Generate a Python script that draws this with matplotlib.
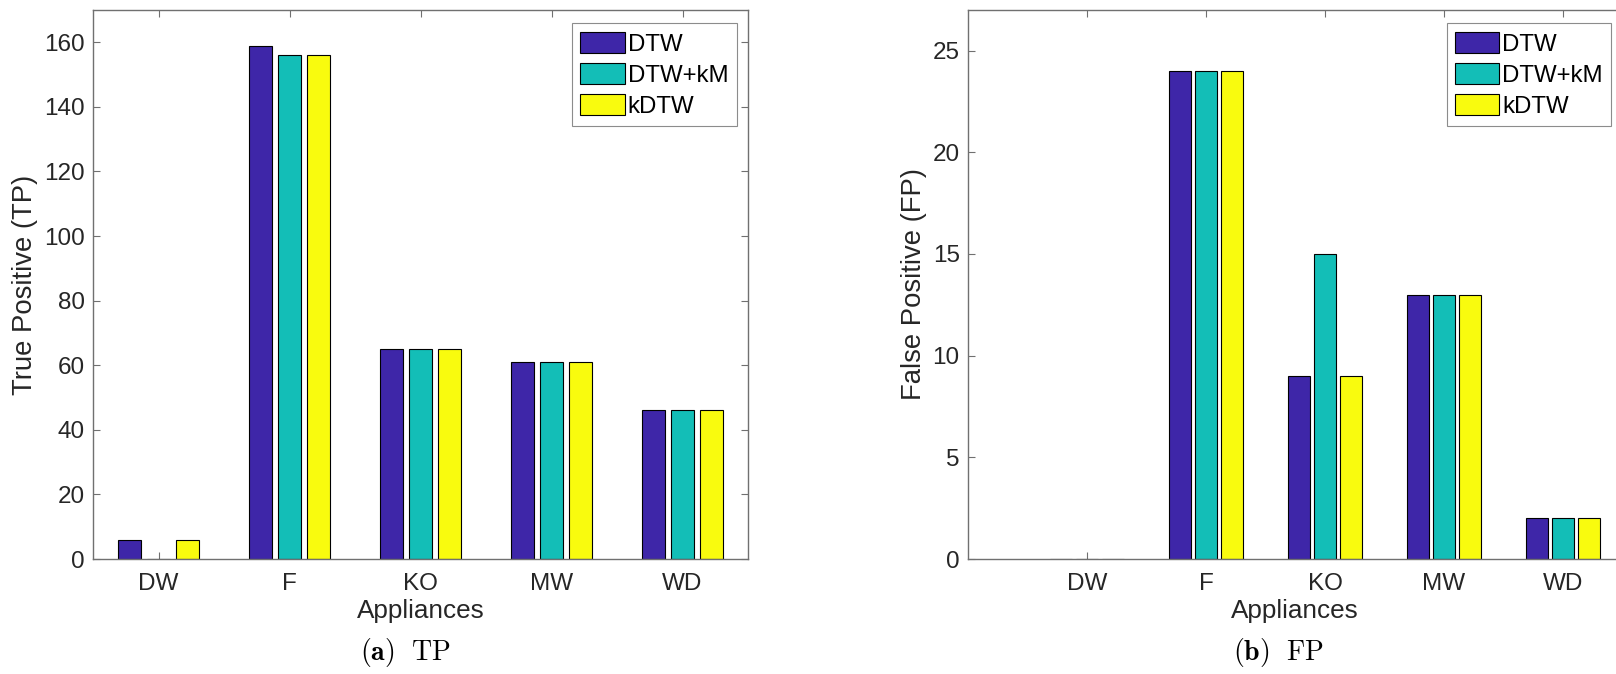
import numpy as np
import matplotlib
matplotlib.use("Agg")
import matplotlib.pyplot as plt

plt.rcParams['font.family'] = ['Liberation Sans', 'DejaVu Sans']
plt.rcParams['mathtext.fontset'] = 'cm'

appliances = ['DW', 'F', 'KO', 'MW', 'WD']
methods = ['DTW', 'DTW+kM', 'kDTW']
colors = ['#3E26A8', '#13BEB7', '#F9FB0E']

tp_dtw = [6, 159, 65, 61, 46]
tp_dtw_km = [0, 156, 65, 61, 46]
tp_kdtw = [6, 156, 65, 61, 46]

fp_dtw = [0, 24, 9, 13, 2]
fp_dtw_km = [0, 24, 15, 13, 2]
fp_kdtw = [0, 24, 9, 13, 2]

TICK_FS = 17.5
LEG_FS = 17.3
XLAB_FS = 18.8
YLAB_FS = 19.8
TXT = '#262626'
AX = '#707070'


def style_axes(ax):
    for s in ax.spines.values():
        s.set_color(AX)
        s.set_linewidth(1.0)
    ax.tick_params(direction='in', top=True, right=True, length=5,
                   width=0.8, color=AX, labelsize=TICK_FS, labelcolor=TXT)
    ax.tick_params(axis='x', pad=10)
    ax.tick_params(axis='y', pad=6)


def grouped_bars(ax, series, xlim, ylim, yticks, ylabel):
    x = np.arange(1, len(appliances) + 1)
    offsets = [-0.22, 0.0, 0.22]
    for vals, off, c, name in zip(series, offsets, colors, methods):
        ax.bar(x + off, vals, width=0.18, color=c, edgecolor='black',
               linewidth=0.8, label=name, zorder=2)
    ax.set_xlim(*xlim)
    ax.set_ylim(*ylim)
    ax.set_xticks(x)
    ax.set_xticklabels(appliances)
    ax.set_yticks(yticks)
    ax.set_xlabel('Appliances', fontsize=XLAB_FS, color=TXT, labelpad=3)
    ax.set_ylabel(ylabel, fontsize=YLAB_FS, color=TXT, labelpad=4)
    style_axes(ax)
    leg = ax.legend(loc='upper right', bbox_to_anchor=(0.983, 0.976),
                    borderaxespad=0, fontsize=LEG_FS, fancybox=False,
                    handlelength=1.85, handleheight=1.0, handletextpad=0.12,
                    labelspacing=0.3, borderpad=0.35)
    leg.get_frame().set_edgecolor(AX)
    leg.get_frame().set_linewidth(0.8)


fig = plt.figure(figsize=(16.16, 6.74), dpi=100)
ax1 = fig.add_axes([93 / 1616, 115 / 674, 655 / 1616, 549 / 674])
ax2 = fig.add_axes([968 / 1616, 115 / 674, 654.5 / 1616, 549 / 674])

grouped_bars(ax1, [tp_dtw, tp_dtw_km, tp_kdtw], (0.5, 5.5), (0, 170),
             np.arange(0, 161, 20), 'True Positive (TP)')
grouped_bars(ax2, [fp_dtw, fp_dtw_km, fp_kdtw], (0, 5.5), (0, 27),
             np.arange(0, 26, 5), 'False Positive (FP)')

fig.text(405 / 1616, 14 / 674, r'$\mathbf{(a)}\ \ \mathrm{TP}$', fontsize=20,
         ha='center', va='baseline', color='black')
fig.text(1278 / 1616, 14 / 674, r'$\mathbf{(b)}\ \ \mathrm{FP}$', fontsize=20,
         ha='center', va='baseline', color='black')

fig.savefig('out.png', dpi=100)
